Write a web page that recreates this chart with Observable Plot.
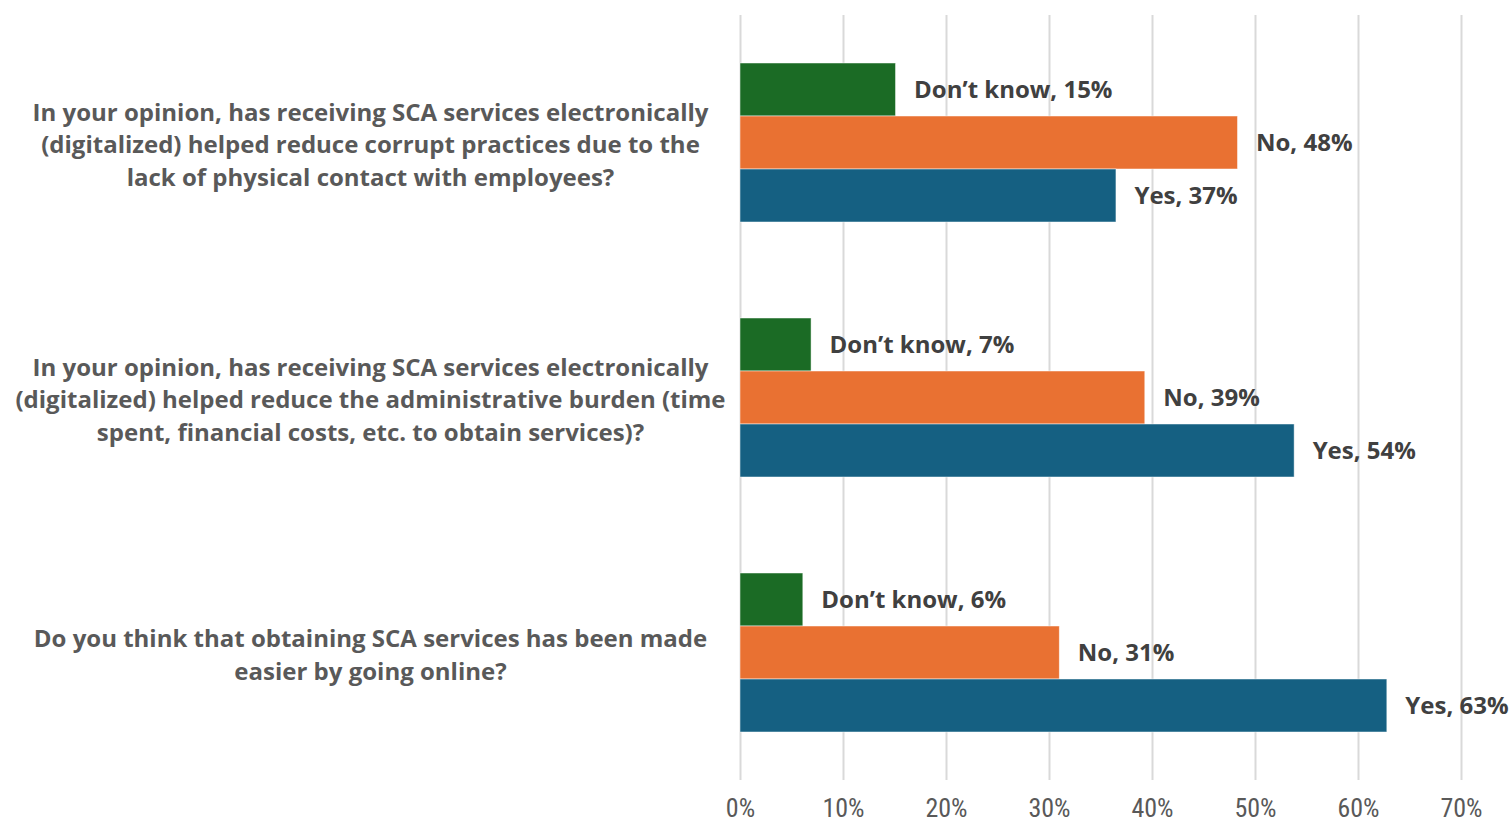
<!DOCTYPE html>
<html>
<head>
<meta charset="utf-8">
<script src="https://cdn.jsdelivr.net/npm/d3@7"></script>
<script src="https://cdn.jsdelivr.net/npm/@observablehq/plot@0.6"></script>
<style>
  html, body { margin: 0; padding: 0; background: #fff; }
  #chart svg { display: block; }
</style>
</head>
<body>
<div id="chart"></div>
<script>
const questions = [
  "In your opinion, has receiving SCA services electronically\n(digitalized) helped reduce corrupt practices due to the\nlack of physical contact with employees?",
  "In your opinion, has receiving SCA services electronically\n(digitalized) helped reduce the administrative burden (time\nspent, financial costs, etc. to obtain services)?",
  "Do you think that obtaining SCA services has been made\neasier by going online?"
];
const answers = ["Don’t know", "No", "Yes"];
const colors = ["#1b6b25", "#e97132", "#156082"];
const dontKnow = [15.1, 6.9, 6.1];
const no = [48.3, 39.3, 31.0];
const yes = [36.5, 53.8, 62.8];
const shown = { "Don’t know": [15, 7, 6], "No": [48, 39, 31], "Yes": [37, 54, 63] };
const xTicks = [0, 0.1, 0.2, 0.3, 0.4, 0.5, 0.6, 0.7];

const series = { "Don’t know": dontKnow, "No": no, "Yes": yes };
const data = [];
questions.forEach((q, i) => {
  answers.forEach(a => {
    data.push({ question: q, answer: a, value: series[a][i] / 100, label: `${a}, ${shown[a][i]}%` });
  });
});

const chart = Plot.plot({
  width: 1510,
  height: 824,
  marginLeft: 740,
  marginRight: 49,
  marginTop: 15,
  marginBottom: 44,
  style: { fontFamily: "'Open Sans', 'Liberation Sans', Arial, sans-serif", background: "#fff" },
  x: { domain: [0, 0.7], ticks: xTicks, tickFormat: d3.format(".0%"), label: null, axis: null },
  y: { domain: answers, axis: null, paddingInner: 0, paddingOuter: 0.905 },
  fy: { domain: questions, axis: null, padding: 0 },
  color: { domain: answers, range: colors },
  marks: [
    Plot.gridX(xTicks, { stroke: "#d9d9d9", strokeOpacity: 1, strokeWidth: 2 }),
    Plot.axisX({
      ticks: xTicks,
      tickFormat: d3.format(".0%"),
      tickSize: 0,
      tickPadding: 18,
      label: null,
      fontSize: 26,
      fill: "#595959",
      fontFamily: "'Liberation Sans Narrow', 'Roboto Condensed', 'Liberation Sans', sans-serif",
      facetAnchor: "bottom"
    }),
    Plot.barX(data, {
      x: "value", y: "answer", fy: "question", fill: "answer",
      stroke: "#ffffff", strokeWidth: 0.8, strokeOpacity: 0.6
    }),
    Plot.text(data, {
      x: "value", y: "answer", fy: "question", text: "label",
      textAnchor: "start", dx: 18, fontSize: 24, fontWeight: "bold", fill: "#404040",
      fontFamily: "'Open Sans', 'Liberation Sans', sans-serif"
    }),
    Plot.text(questions, {
      fy: d => d, text: d => d, frameAnchor: "left", dx: -370,
      textAnchor: "middle", lineHeight: 1.35, fontSize: 24, fontWeight: "bold",
      fill: "#595959", fontFamily: "'Open Sans', 'Liberation Sans', sans-serif"
    })
  ]
});
document.getElementById("chart").appendChild(chart);
</script>
</body>
</html>
